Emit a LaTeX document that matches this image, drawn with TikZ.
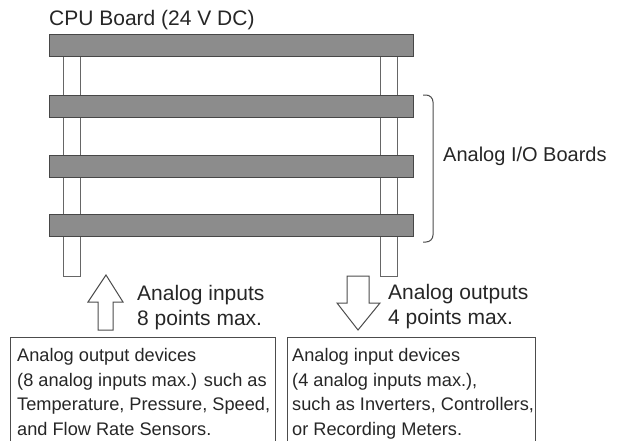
\documentclass[tikz,border=0pt]{standalone}
\usepackage{fontspec}
\setmainfont{Liberation Sans}
\begin{document}
\begin{tikzpicture}[x=1pt,y=-1pt,
  board/.style={draw=black!72, fill=black!45, line width=1pt, inner sep=0pt, minimum width=364pt, minimum height=22pt},
  post/.style={draw=black!60, fill=white, line width=1pt, inner sep=0pt, minimum width=17pt, minimum height=220pt},
  hollow/.style={draw=black!70, fill=white, line width=1pt, line join=miter},
  devbox/.style={draw=black!70, line width=1pt},
  brc/.style={draw=black!70, line width=1pt, rounded corners=7pt},
  biglbl/.style={anchor=base west, inner sep=0pt, align=left, text=black!85, font=\fontsize{21}{25}\selectfont},
  iolbl/.style={anchor=base west, inner sep=0pt, text=black!85, font=\fontsize{20}{24}\selectfont},
  boxtxt/.style={anchor=base west, inner sep=0pt, align=left, text=black!85, font=\fontsize{18.2}{24.5}\selectfont}]
\useasboundingbox (0,0) rectangle (618,440);
% posts
\node[post] (pl) at (71.5,166) {};
\node[post] (pr) at (389,166) {};
% boards
\node[board] (b1) at (231,45) {};
\node[board] (b2) at (231,106) {};
\node[board] (b3) at (231,166.5) {};
\node[board] (b4) at (231,225.5) {};
% labels
\node[biglbl] (cpu) at (49,25) {CPU Board (24 V DC)};
\coordinate (bt) at (423,95);
\coordinate (bb) at (423,242);
\draw[brc] (bt) -- (433,95) -- (433,242) -- (bb);
\node[iolbl] (io) at (443,161.5) {Analog I/O Boards};
% arrows
\draw[hollow] (106,275) -- (123,302) -- (113,302) -- (113,330) -- (98,330) -- (98,302) -- (88,302) -- cycle;
\draw[hollow] (358,330) -- (380,303) -- (369,303) -- (369,276) -- (347,276) -- (347,303) -- (337,303) -- cycle;
\node[biglbl] (ain) at (137,325) {Analog inputs\\8 points max.};
\node[biglbl] (aout) at (388,324) {Analog outputs\\4 points max.};
% device boxes
\draw[devbox] (10,450) |- (275,337) -- (275,450);
\draw[devbox] (287,450) |- (535,337) -- (535,450);
\node[boxtxt] (dl) at (17,435) {Analog output devices\\(8 analog inputs max.) such as\\Temperature, Pressure, Speed,\\and Flow Rate Sensors.};
\node[boxtxt] (dr) at (292,435) {Analog input devices\\(4 analog inputs max.),\\such as Inverters, Controllers,\\or Recording Meters.};
\end{tikzpicture}
\end{document}
